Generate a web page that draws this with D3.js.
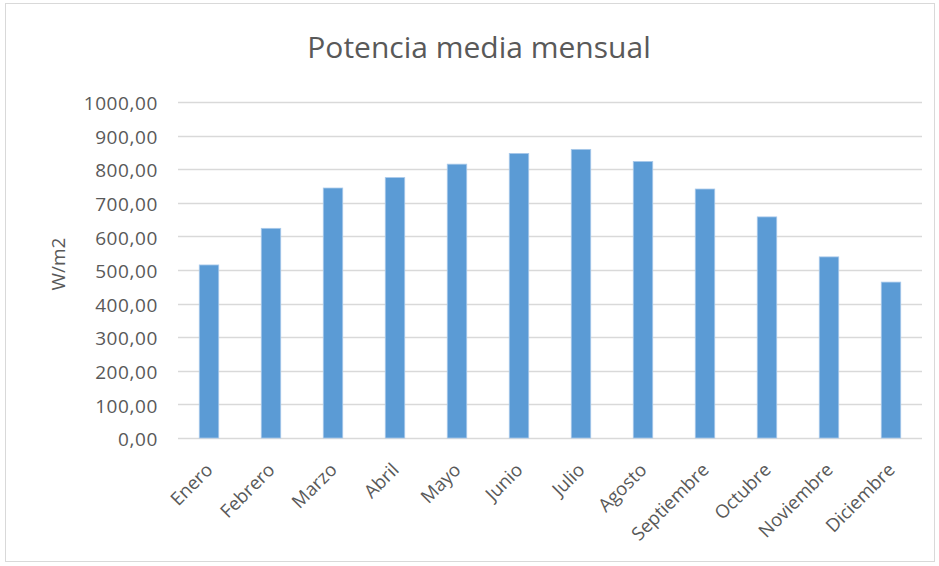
<!DOCTYPE html>
<html lang="es">
<head>
<meta charset="UTF-8">
<title>Potencia media mensual</title>
<script src="https://d3js.org/d3.v7.min.js"></script>
<style>
    body { margin: 0; background: #fff; }
    text { font-family: "Open Sans", Lato, sans-serif; fill: #595959; }
</style>
</head>
<body>
<script>
// data
const months = ["Enero", "Febrero", "Marzo", "Abril", "Mayo", "Junio", "Julio",
                "Agosto", "Septiembre", "Octubre", "Noviembre", "Diciembre"];
const potencia = [515, 624, 744, 775, 815, 847, 859, 823, 741, 658, 539, 464];
const yTicks = [0, 100, 200, 300, 400, 500, 600, 700, 800, 900, 1000];

const width = 939, height = 566;
const margin = { top: 102, right: 17, bottom: 128, left: 178 };

const svg = d3.select("body").append("svg")
    .attr("width", width)
    .attr("height", height);

// outer chart frame
svg.append("rect")
    .attr("x", 5.5).attr("y", 3.5)
    .attr("width", width - 10).attr("height", height - 8)
    .attr("fill", "#fff")
    .attr("stroke", "#d9d9d9");

const x = d3.scaleBand()
    .domain(months)
    .range([margin.left, width - margin.right])
    .paddingInner(0.686)
    .paddingOuter(0.343);

const y = d3.scaleLinear()
    .domain([0, 1000])
    .range([height - margin.bottom, margin.top]);

// gridlines
svg.append("g")
    .selectAll("line")
    .data(yTicks)
    .join("line")
    .attr("x1", margin.left)
    .attr("x2", width - margin.right)
    .attr("y1", d => Math.round(y(d)) + 0.5)
    .attr("y2", d => Math.round(y(d)) + 0.5)
    .attr("stroke", "#d9d9d9")
    .attr("stroke-width", 1.3);

// y axis labels
const fmt = d => d3.format(".2f")(d).replace(".", ",");
svg.append("g")
    .selectAll("text")
    .data(yTicks)
    .join("text")
    .attr("x", 158)
    .attr("y", d => y(d))
    .attr("dy", "0.43em")
    .attr("text-anchor", "end")
    .attr("font-size", "19px")
    .attr("letter-spacing", "0.6px")
    .text(fmt);

// bars
svg.append("g")
    .selectAll("rect")
    .data(potencia)
    .join("rect")
    .attr("x", (d, i) => x(months[i]))
    .attr("width", x.bandwidth())
    .attr("y", d => y(d))
    .attr("height", d => y(0) - y(d))
    .attr("fill", "#5b9bd5")
    .attr("stroke", "#a9c9ea")
    .attr("stroke-width", 0.8);

// x labels, rotated
svg.append("g")
    .selectAll("text")
    .data(months)
    .join("text")
    .attr("transform", d => `translate(${x(d) + x.bandwidth() / 2 + 5},${y(0) + 33}) rotate(-45)`)
    .attr("text-anchor", "end")
    .attr("font-size", "18.5px")
    .text(d => d);

// y axis title
svg.append("text")
    .attr("transform", `translate(65,264) rotate(-90)`)
    .attr("text-anchor", "middle")
    .attr("font-size", "19px")
    .text("W/m2");

// chart title
svg.append("text")
    .attr("x", 479)
    .attr("y", 58)
    .attr("text-anchor", "middle")
    .attr("font-size", "30px")
    .text("Potencia media mensual");
</script>
</body>
</html>
